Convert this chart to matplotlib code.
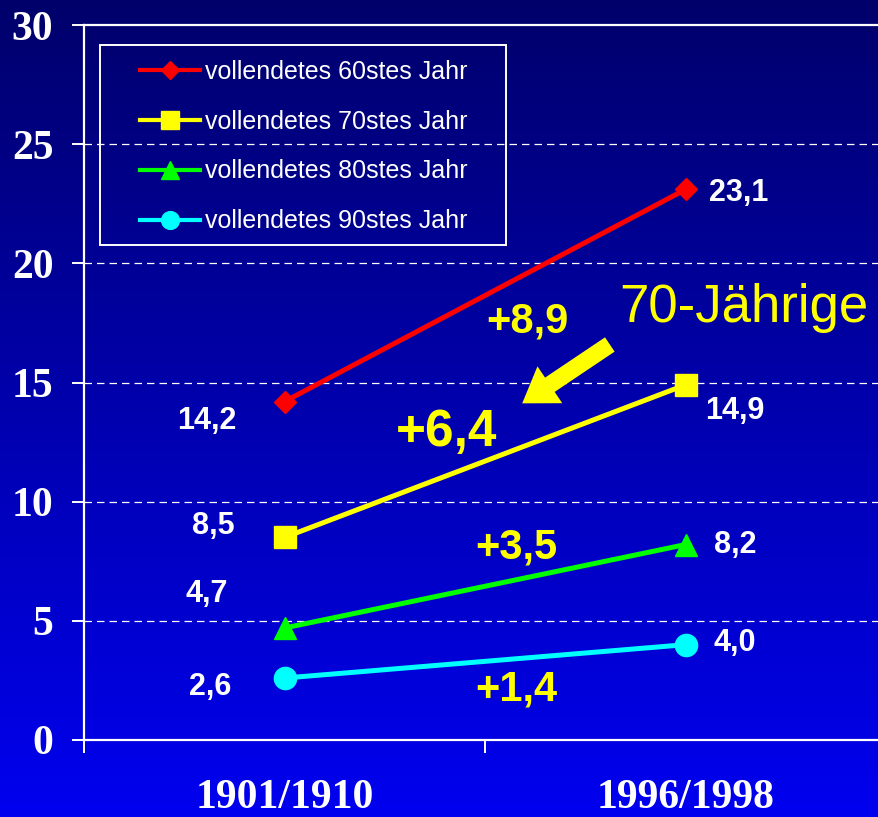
import numpy as np
import matplotlib
matplotlib.use("Agg")
from matplotlib import pyplot as plt
from matplotlib.patches import Rectangle, FancyArrowPatch

# data
years = ["1901/1910", "1996/1998"]
age60 = [14.2, 23.1]
age70 = [8.5, 14.9]
age80 = [4.7, 8.2]
age90 = [2.6, 4.0]
seriesLabels = ["vollendetes 60stes Jahr", "vollendetes 70stes Jahr",
                "vollendetes 80stes Jahr", "vollendetes 90stes Jahr"]
diffLabels = ["+8,9", "+6,4", "+3,5", "+1,4"]
yTicks = [0, 5, 10, 15, 20, 25, 30]

colors = ["#ff0000", "#ffff00", "#00ff00", "#00ffff"]
markers = ["D", "s", "^", "o"]
msizes = [11, 16.5, 16, 16]

W, H = 879, 817
fig = plt.figure(figsize=(W / 100, H / 100), dpi=100)

# gradient background
bg = fig.add_axes([0, 0, 1, 1], zorder=-10)
grad = np.linspace(0, 1, 256).reshape(-1, 1)
top = np.array([0.0, 0.0, 0.42])
bot = np.array([0.0, 0.0, 0.94])
img = top + (bot - top) * grad[:, :, None]
bg.imshow(img, aspect="auto", extent=[0, 1, 0, 1], origin="upper")
bg.axis("off")

# main axes (right edge runs past the figure)
ax = fig.add_axes([84 / W, 77 / H, 802 / W, 715 / H])
ax.patch.set_visible(False)
x = np.arange(len(years))
allSeries = [age60, age70, age80, age90]
for vals, c, m, ms, lab in zip(allSeries, colors, markers, msizes, seriesLabels):
    ax.plot(x, vals, color=c, lw=3.6, marker=m, ms=ms, mec=c, mfc=c,
            label=lab, clip_on=False, zorder=5)

ax.set_xlim(-0.5, 1.5)
ax.set_ylim(0, 30)

# spines
for s in ["left", "bottom", "top"]:
    ax.spines[s].set_color("white")
    ax.spines[s].set_linewidth(1.6)
ax.spines["right"].set_visible(False)

ax.set_yticks(yTicks)
ax.set_yticklabels([str(t) for t in yTicks])
ax.tick_params(axis="y", colors="white", length=9, width=1.4, pad=13)
for t in ax.get_yticklabels():
    t.set_fontfamily("Liberation Serif")
    t.set_fontweight("bold")
    t.set_fontsize(30)
    t.set_color("white")

ax.set_xticks([-0.5, 0.5, 1.5])
ax.set_xticklabels(["", "", ""])
ax.tick_params(axis="x", which="major", colors="white", length=9, width=1.4)
ax.set_xticks(x, minor=True)
ax.set_xticklabels(years, minor=True)
ax.tick_params(axis="x", which="minor", length=0, pad=28)
for t in ax.get_xticklabels(minor=True):
    t.set_fontfamily("Liberation Serif")
    t.set_fontweight("bold")
    t.set_fontsize(30)
    t.set_color("white")

for yv in yTicks[1:-1]:
    ax.axhline(yv, color="white", lw=0.9, ls=(0, (6, 4)), zorder=1)

# value labels
valPos = [[(-0.193, 13.39), (1.133, 22.95)],
          [(-0.178, 8.98), (1.123, 13.81)],
          [(-0.193, 6.13), (1.123, 8.18)],
          [(-0.186, 2.22), (1.123, 4.07)]]
for vals, pos in zip(allSeries, valPos):
    for v, (px, py) in zip(vals, pos):
        ax.text(px, py, f"{v:.1f}".replace(".", ","), color="white",
                fontsize=22, fontweight="bold", family="Liberation Sans",
                ha="center", va="center")

# differences
diffPos = [(0.605, 17.54), (0.405, 12.92), (0.577, 8.06), (0.577, 2.10)]
diffSize = [30, 37, 30, 30]
for lab, (px, py), fs in zip(diffLabels, diffPos, diffSize):
    ax.text(px, py, lab, color="#ffff00", fontsize=fs, fontweight="bold",
            family="Liberation Sans", ha="center", va="center")

ax.text(1.146, 18.13, "70-Jährige", color="#ffff00", fontsize=38,
        family="Liberation Sans", ha="center", va="center")
arr = FancyArrowPatch((0.817, 16.66), (0.587, 14.06),
                      arrowstyle="simple,head_length=1.2,head_width=1.6,tail_width=0.62",
                      mutation_scale=20, color="#ffff00", lw=0, zorder=6)
ax.add_patch(arr)

# legend
fig.patches.append(Rectangle((100 / W, 1 - 245 / H), 406 / W, 200 / H,
                             transform=fig.transFigure, fill=False,
                             edgecolor="white", lw=1.4))
leg = ax.legend(loc="upper left", bbox_to_anchor=(140 / W, 1 - 60 / H),
                bbox_transform=fig.transFigure, frameon=False, borderpad=0,
                borderaxespad=0, handlelength=2.4, handletextpad=0.2,
                labelspacing=1.03, markerscale=0.8,
                prop={"family": "Liberation Sans", "size": 18})
for t in leg.get_texts():
    t.set_color("white")
for ln in leg.get_lines():
    ln.set_linewidth(3.0)

fig.savefig("out.png", dpi=100)
